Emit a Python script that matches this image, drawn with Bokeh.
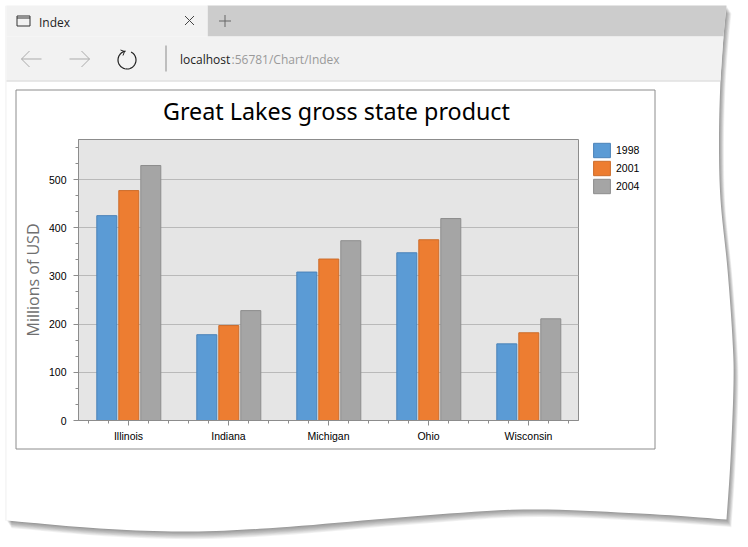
import math
import numpy as np
from bokeh.plotting import figure
from bokeh.layouts import column, row
from bokeh.embed import file_html
from bokeh.resources import INLINE
from bokeh.models import ColumnDataSource, Range1d, FixedTicker, Legend, LegendItem
from bokeh.core.properties import value

TITLE = "Great Lakes gross state product"
Y_LABEL = "Millions of USD"
STATES = ["Illinois", "Indiana", "Michigan", "Ohio", "Wisconsin"]
YEARS = ["1998", "2001", "2004"]
GSP_1998 = [425, 178, 308, 348, 159]
GSP_2001 = [477, 197, 335, 375, 182]
GSP_2004 = [529, 228, 373, 419, 211]
Y_MAX = 583
Y_TICKS = [0, 100, 200, 300, 400, 500]
Y_MINOR = [t + d for t in range(0, 600, 100) for d in (33.3, 66.7) if t + d < Y_MAX]

FILLS = ["#5b9bd5", "#ed7d31", "#a5a5a5"]
EDGES = ["#4a82b8", "#cc6c2a", "#8d8d8d"]
GRAY = "#8c8c8c"
TICK_FONT = "Liberation Sans"
W, H = 748, 547

# ---- back layer: the browser window, in reference pixels
bg = figure(width=W, height=H, output_backend="svg", toolbar_location=None,
            x_range=Range1d(1, W + 1), y_range=Range1d(H + 1, 1), x_axis_type=None, y_axis_type=None,
            min_border=0, outline_line_color=None, background_fill_color="white",
            border_fill_color="white")
bg.grid.visible = False

def spline(pts, n=10):
    P = [pts[0]] + list(pts) + [pts[-1]]
    out = []
    for i in range(1, len(P) - 2):
        p0, p1, p2, p3 = map(np.array, P[i - 1:i + 3])
        for t in np.linspace(0, 1, n, endpoint=False):
            out.append(0.5 * (2 * p1 + (p2 - p0) * t + (2 * p0 - 5 * p1 + 4 * p2 - p3) * t * t
                              + (3 * p1 - p0 - 3 * p2 + p3) * t ** 3))
    out.append(np.array(P[-1]))
    return [(float(q[0]), float(q[1])) for q in out]

def patch(pts, fill, alpha=1.0):
    bg.patch([a for a, _ in pts], [b for _, b in pts], fill_color=fill, fill_alpha=alpha, line_color=None)

def stroke(pts, color, lw=1.0):
    bg.line([a for a, _ in pts], [b for _, b in pts], line_color=color, line_width=lw)

right_edge = spline([(727, 6), (724, 37), (721, 81), (719.5, 140), (721, 200), (728, 270),
                     (733, 340), (734, 385), (731, 460), (727, 520)])
bottom_edge = spline([(727, 520), (640, 514), (524, 510), (400, 518), (280, 528), (190, 532),
                      (100, 529), (7, 521)])
paper = [(7, 6)] + right_edge + bottom_edge[1:]

for k in range(9, 0, -1):
    patch([(a + 0.55 * k, b + 0.85 * k) for a, b in paper], "#000000", 0.05)
patch([(a - 1.2, b + 0.3) for a, b in paper], "#000000", 0.05)
patch(paper, "#ffffff")

edge_at = lambda y: float(np.interp(y, [b for _, b in right_edge], [a for a, _ in right_edge]))
patch([(208, 6), (727, 6), (edge_at(37), 37), (208, 37)], "#cccccc")
patch([(7, 6), (208, 6), (208, 37), (7, 37)], "#f2f2f2")
patch([(7, 37), (edge_at(37), 37), (edge_at(81), 81), (7, 81)], "#f2f2f2")
patch([(7, 81), (edge_at(81), 81), (edge_at(82), 82), (7, 82)], "#d2d2d2")

# tab icons
stroke([(17.5, 16.5), (30.5, 16.5), (30.5, 26.5), (17.5, 26.5), (17.5, 16.5)], "#333333")
stroke([(17.5, 18.5), (30.5, 18.5)], "#333333")
stroke([(185.5, 16.5), (194.5, 25.5)], "#444444")
stroke([(194.5, 16.5), (185.5, 25.5)], "#444444")
stroke([(219.5, 21.5), (231.5, 21.5)], "#666666")
stroke([(225.5, 15.5), (225.5, 27.5)], "#666666")
# navigation
for sign, x0, x1 in ((1, 22, 42), (-1, 90, 70)):
    stroke([(x0, 59.5), (x1, 59.5)], "#ababab")
    stroke([(x0 + sign * 8, 51.5), (x0, 59.5), (x0 + sign * 8, 67.5)], "#ababab")
arc = [(127.5 + 9 * math.cos(a), 60.5 + 9 * math.sin(a)) for a in np.linspace(-math.pi * 0.35, math.pi * 1.45, 40)]
stroke(arc, "#222222", 1.2)
stroke([(121, 50.5), (125, 52), (123.5, 56)], "#222222")
stroke([(166.5, 46), (166.5, 72)], "#8a8a8a")

def chrome_text(x, y, text, color, size="12px"):
    bg.text([x], [y], text=[text], text_color=color, text_font=value("Open Sans"),
            text_font_size=size, text_baseline="middle", text_align="left")

chrome_text(39.5, 22.5, "Index", "#222222")
chrome_text(180.5, 59.5, "localhost", "#222222")
chrome_text(232, 59.5, ":56781/Chart/Index", "#9a9a9a")

# chart panel
stroke([(16.5, 90.5), (655.5, 90.5), (655.5, 449.5), (16.5, 449.5), (16.5, 90.5)], GRAY)

# legend: keys are drawn from off-canvas bars in the series' colours
proxies = [bg.vbar(x=[-50], top=[H + 50], bottom=H + 40, width=1, fill_color=fc, line_color=ec)
           for fc, ec in zip(FILLS, EDGES)]
legend = Legend(items=[LegendItem(label=value(y), renderers=[r]) for y, r in zip(YEARS, proxies)],
                location=(591, H - 195), orientation="vertical", glyph_width=21, glyph_height=18,
                spacing=0, padding=0, margin=0, label_standoff=4, label_height=18,
                background_fill_alpha=0, border_line_alpha=0,
                label_text_font=TICK_FONT, label_text_font_size="10.5px", label_text_color="#000000")
bg.add_layout(legend)

# ---- front layer: the chart itself
p = figure(width=W, height=H, output_backend="svg", toolbar_location=None,
           x_range=Range1d(0, len(STATES)), y_range=Range1d(0, Y_MAX),
           min_border_left=78, min_border_right=170, min_border_top=139, min_border_bottom=127,
           background_fill_color="#e5e5e5", border_fill_color=None, outline_line_color=GRAY)

p.title.text = TITLE
p.title.align = "left"
p.title.offset = 84.5
p.title.standoff = 25
p.title.text_font = "Noto Sans"
p.title.text_font_size = "23.3px"
p.title.text_font_style = "normal"
p.title.text_color = "#000000"

centers = [i + 0.5 for i in range(len(STATES))]
renderers = []
for vals, off, fc, ec in zip((GSP_1998, GSP_2001, GSP_2004), (-0.22, 0, 0.22), FILLS, EDGES):
    src = ColumnDataSource(dict(x=[c + off + 0.003 for c in centers], top=vals))
    renderers.append(p.vbar(x="x", top="top", bottom=0, width=0.2, source=src,
                            fill_color=fc, line_color=ec, line_width=1))

xa = p.xaxis[0]
xa.ticker = FixedTicker(ticks=centers,
                        minor_ticks=[i * 0.2 + 0.1 for i in range(len(STATES) * 5)])
xa.major_label_overrides = {c: s for c, s in zip(centers, STATES)}
ya = p.yaxis[0]
ya.ticker = FixedTicker(ticks=Y_TICKS, minor_ticks=Y_MINOR)
ya.axis_label = Y_LABEL
ya.axis_label_text_font = "Open Sans"
ya.axis_label_text_font_size = "16px"
ya.axis_label_text_font_style = "normal"
ya.axis_label_text_color = "#707070"
ya.axis_label_standoff = 2
for ax in (xa, ya):
    ax.axis_line_color = GRAY
    ax.major_tick_line_color = GRAY
    ax.minor_tick_line_color = GRAY
    ax.major_tick_in = 0
    ax.major_tick_out = 5
    ax.minor_tick_in = 0
    ax.minor_tick_out = 3
    ax.major_label_text_font = TICK_FONT
    ax.major_label_text_font_size = "10.5px"
    ax.major_label_text_color = "#000000"
xa.major_label_standoff = 4
ya.major_label_standoff = 7
p.xgrid.visible = False
p.ygrid.ticker = FixedTicker(ticks=Y_TICKS)
p.ygrid.grid_line_color = "#b9b9b9"

# the two layers lie on top of each other; the row keeps their frames independent
front = row(p, margin=(-H, 0, 0, 0))
page = column(row(bg), front, width=W, height=H, spacing=0)
open("out.html", "w").write(file_html(page, INLINE))
